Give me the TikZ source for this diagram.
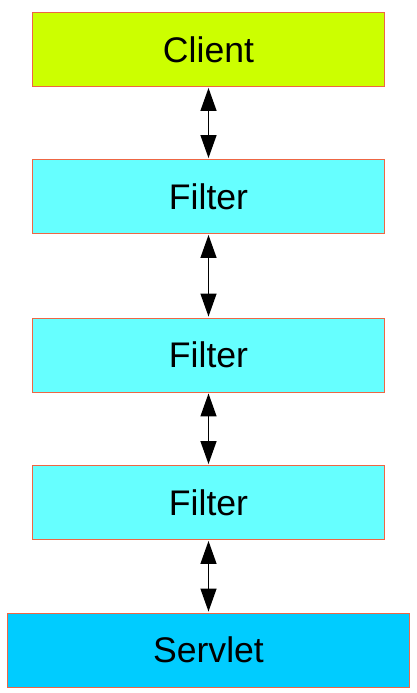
\documentclass[tikz,border=0pt]{standalone}
\usepackage{fontspec}
\setmainfont{Liberation Sans}
\usetikzlibrary{arrows.meta}
\definecolor{clientfill}{RGB}{204,255,0}
\definecolor{filterfill}{RGB}{102,255,255}
\definecolor{servletfill}{RGB}{0,204,255}
\definecolor{boxline}{RGB}{238,102,68}
\tikzset{
  box/.style={draw=boxline, line width=0.9pt, minimum height=74pt, inner sep=0pt,
    font=\fontsize{35.6}{40}\selectfont, text=black},
  link/.style={{Triangle[length=23pt,width=16pt]}-{Triangle[length=23pt,width=16pt]}, line width=1.3pt, black, shorten <=1pt, shorten >=1pt}
}
\begin{document}
\begin{tikzpicture}[x=1pt,y=-1pt]
\useasboundingbox (0,0) rectangle (417,693);
\node[box, fill=clientfill, minimum width=352pt] (client) at (208.5,49.5) {Client};
\node[box, fill=filterfill, minimum width=352pt] (f1) at (208.5,196.5) {Filter};
\node[box, fill=filterfill, minimum width=352pt] (f2) at (208.5,355) {Filter};
\node[box, fill=filterfill, minimum width=352pt] (f3) at (208.5,502.5) {Filter};
\node[box, fill=servletfill, minimum width=402pt] (servlet) at (208.5,650) {Servlet};
\draw[link] (client) -- (f1);
\draw[link] (f1) -- (f2);
\draw[link] (f2) -- (f3);
\draw[link] (f3) -- (servlet);
\end{tikzpicture}
\end{document}
